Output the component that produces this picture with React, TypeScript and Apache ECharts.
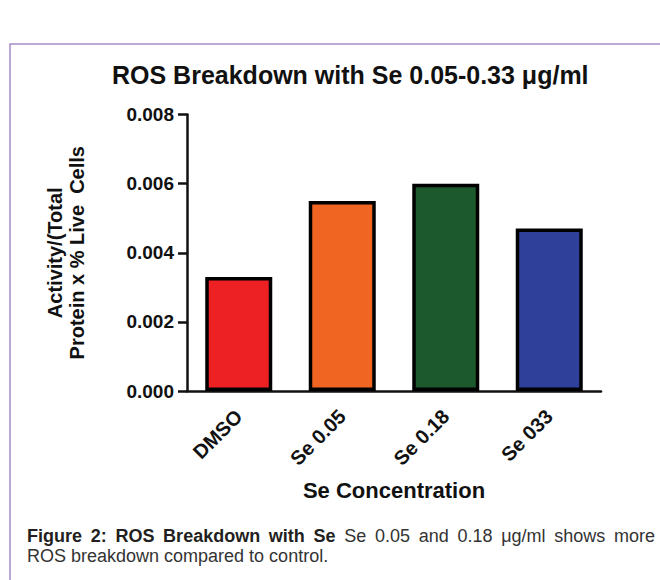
import React, { useEffect, useRef } from "react";
import * as echarts from "echarts";

// ---- data ----
const categories = ["DMSO", "Se 0.05", "Se 0.18", "Se 033"];
const values = [0.0033, 0.0055, 0.006, 0.0047];
const yMin = 0;
const yMax = 0.008;
const yStep = 0.002;

const titleText = "ROS Breakdown with Se 0.05-0.33 \u03bcg/ml";
const yAxisName = "Activity/(Total\nProtein x % Live  Cells";
const xAxisName = "Se Concentration";
const captionBold = ["Figure", "2:", "ROS", "Breakdown", "with", "Se"];
const captionLine1 = ["Se", "0.05", "and", "0.18", "\u03bcg/ml", "shows", "more"];
const captionLine2 = "ROS breakdown compared to control.";

// ---- styles ----
const barColors = ["#ED2024", "#F16522", "#1C5A2E", "#2E4099"];
const FONT = "'Liberation Sans', Arial, Helvetica, sans-serif";

function measure(text: string, weight: string, size: number): number {
  const c = document.createElement("canvas").getContext("2d");
  if (!c) return text.length * size * 0.55;
  c.font = `${weight} ${size}px 'Liberation Sans', Arial, sans-serif`;
  return c.measureText(text).width;
}

function buildCaption() {
  const size = 18;
  const left = 27;
  const right = 655;
  const words = [
    ...captionBold.map((t) => ({ t, bold: true })),
    ...captionLine1.map((t) => ({ t, bold: false })),
  ];
  const widths = words.map((w) => measure(w.t, w.bold ? "bold" : "normal", size));
  const total = widths.reduce((a, b) => a + b, 0);
  const gap = (right - left - total) / (words.length - 1);
  const els: any[] = [];
  let x = left;
  words.forEach((w, i) => {
    els.push({
      type: "text",
      x,
      y: 535.8,
      style: {
        text: w.t,
        fontFamily: FONT,
        fontSize: size,
        fontWeight: w.bold ? "bold" : "normal",
        fill: w.bold ? "#231F20" : "#333333",
        verticalAlign: "middle",
        align: "left",
      },
    });
    x += widths[i] + gap;
  });
  els.push({
    type: "text",
    x: left,
    y: 555.8,
    style: {
      text: captionLine2,
      fontFamily: FONT,
      fontSize: size,
      fill: "#333333",
      verticalAlign: "middle",
      align: "left",
    },
  });
  return els;
}

export default function App() {
  const ref = useRef<HTMLDivElement>(null);
  useEffect(() => {
    if (!ref.current) return;
    const chart = echarts.init(ref.current, undefined, { renderer: "svg" });
    chart.setOption({
      animation: false,
      backgroundColor: "#ffffff",
      title: {
        text: titleText,
        left: 112,
        top: 62,
        padding: 0,
        textStyle: {
          fontFamily: FONT,
          fontSize: 25,
          fontWeight: "bold",
          color: "#111111",
        },
      },
      grid: {
        left: 187,
        right: 59,
        top: 114.5,
        bottom: 580 - 391,
        containLabel: false,
      },
      xAxis: {
        type: "category",
        data: categories,
        name: xAxisName,
        nameLocation: "middle",
        nameGap: 88,
        nameTextStyle: {
          fontFamily: FONT,
          fontSize: 22,
          fontWeight: "bold",
          color: "#111111",
        },
        axisLine: { lineStyle: { color: "#111111", width: 2.5 } },
        axisTick: {
          alignWithLabel: true,
          length: 8,
          lineStyle: { color: "#111111", width: 2.5 },
        },
        axisLabel: {
          rotate: 45,
          margin: 22,
          fontFamily: FONT,
          fontSize: 20,
          fontWeight: "bold",
          color: "#111111",
        },
      },
      yAxis: {
        type: "value",
        min: yMin,
        max: yMax,
        interval: yStep,
        name: yAxisName,
        nameLocation: "middle",
        nameRotate: 90,
        nameGap: 99,
        nameTextStyle: {
          fontFamily: FONT,
          fontSize: 20,
          fontWeight: "bold",
          color: "#111111",
          lineHeight: 22,
          align: "center",
        },
        axisLine: { show: true, lineStyle: { color: "#111111", width: 2.5 } },
        axisTick: { show: true, length: 9, lineStyle: { color: "#111111", width: 2.5 } },
        splitLine: { show: false },
        axisLabel: {
          margin: 13,
          fontFamily: FONT,
          fontSize: 19,
          fontWeight: "bold",
          color: "#111111",
          formatter: (v: number) => v.toFixed(3),
        },
      },
      series: [
        {
          type: "bar",
          barWidth: 67,
          data: values.map((v, i) => ({
            value: v,
            itemStyle: {
              color: barColors[i],
              borderColor: "#000000",
              borderWidth: 3.5,
            },
          })),
        },
      ],
      graphic: [
        {
          type: "rect",
          shape: { x: 10, y: 44, width: 720, height: 620 },
          style: { fill: "none", stroke: "#A58CC5", lineWidth: 1.5 },
          silent: true,
        },
        ...buildCaption(),
      ],
    });
    return () => chart.dispose();
  }, []);
  return (
    <div
      ref={ref}
      style={{ position: "fixed", left: 0, top: 0, width: 660, height: 580 }}
    />
  );
}
